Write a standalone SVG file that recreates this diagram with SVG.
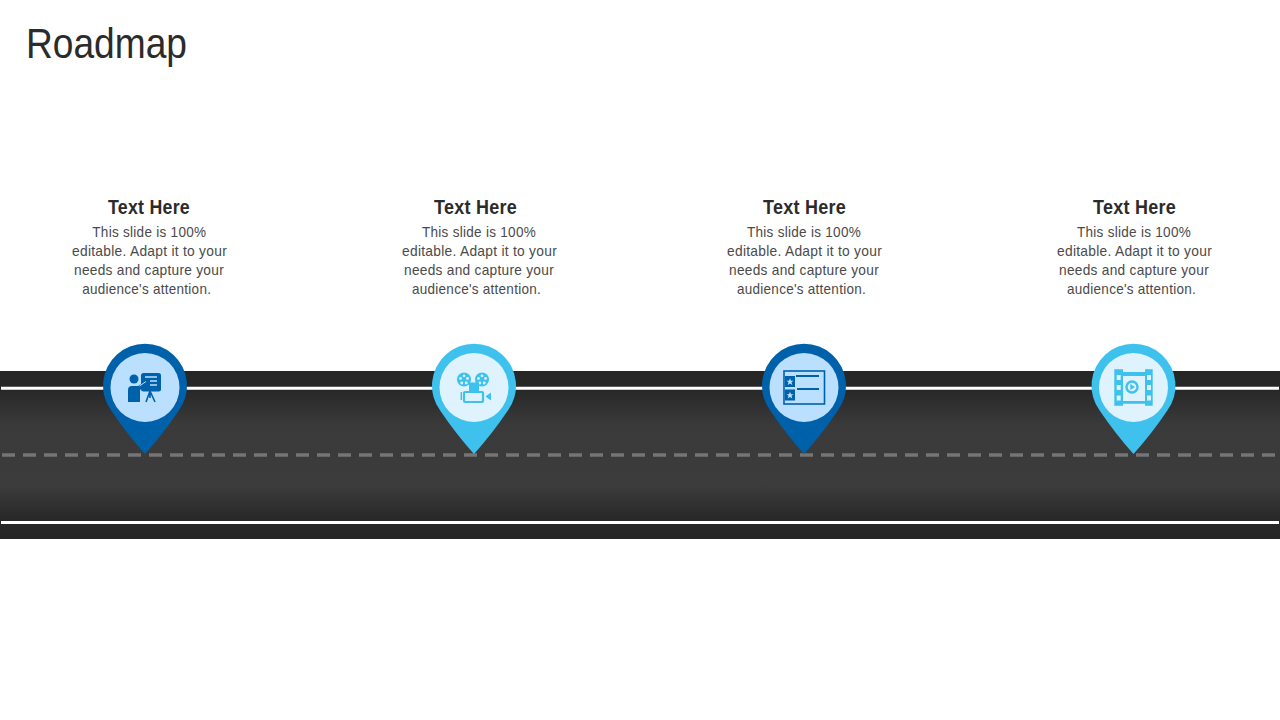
<svg xmlns="http://www.w3.org/2000/svg" xmlns:xlink="http://www.w3.org/1999/xlink" width="1280" height="720" viewBox="0 0 1280 720">
<style>
.t{font-family:"Liberation Sans",Arial,sans-serif;}
.title{font-size:43px;fill:#2b2b2b;}
.h{font-size:20px;font-weight:bold;fill:#2b2b2b;text-anchor:middle;letter-spacing:.3px;}
.b{font-size:15px;fill:#4a4a4a;text-anchor:middle;letter-spacing:.3px;}
.dk{fill:#0061ab;}
.dkl{fill:#bbdfff;}
.lt{fill:#3fc1ee;}
.ltl{fill:#def3fd;}
.ilt{fill:none;stroke:#3fc1ee;}
.idk{fill:none;stroke:#0061ab;}
</style>
<defs>
<linearGradient id="road" x1="0" y1="0" x2="0" y2="1">
<stop offset="0" stop-color="#262626"/><stop offset=".11" stop-color="#282828"/><stop offset=".32" stop-color="#3a3a3a"/><stop offset=".68" stop-color="#3c3c3c"/><stop offset=".88" stop-color="#282828"/><stop offset="1" stop-color="#262626"/>
</linearGradient>
<path id="pin" d="M-33.500 26A42 42 0 1 1 33.500 26Q18 49 0 69Q-18 49 -33.500 26Z"/>
</defs>
<rect width="1280" height="720" fill="#fff"/>
<text class="t title" x="26" y="58" textLength="161" lengthAdjust="spacingAndGlyphs">Roadmap</text>
<g id="connectors">
<rect id="road-surface" x="0" y="371" width="1280" height="168" fill="url(#road)"/>
<path d="M1 388.300H1279M1 522.500H1279" stroke="#fff" stroke-width="3" fill="none"/>
<path d="M2 455H1280" stroke="#757575" stroke-width="3.500" stroke-dasharray="13 8" fill="none"/>
</g>
<g id="node1">
<text class="t h" x="149" y="214" textLength="82" lengthAdjust="spacingAndGlyphs">Text Here</text>
<text class="t b" x="149.300" y="237" textLength="114" lengthAdjust="spacingAndGlyphs">This slide is 100%</text><text class="t b" x="149.500" y="256" textLength="155" lengthAdjust="spacingAndGlyphs">editable. Adapt it to your</text><text class="t b" x="149" y="275" textLength="150" lengthAdjust="spacingAndGlyphs">needs and capture your</text><text class="t b" x="146.700" y="294" textLength="129" lengthAdjust="spacingAndGlyphs">audience's attention.</text>
<use xlink:href="#pin" href="#pin" x="145" y="385" class="dk"/>
<circle cx="145" cy="387.500" r="34.500" class="dkl"/>
<g class="dk"><circle cx="134" cy="379" r="4.500"/><path d="M128 390q0-4 4-4h6l7-4.500 2 2.500-7 6v12h-12z"/><rect x="141" y="373" width="20" height="18.500" rx="2.500"/></g>
<path d="M145 377h12M150 381h7M150 385h7" stroke="#bbdfff" stroke-width="1.500" fill="none"/>
<path d="M139.500 386l6.500-4.500" stroke="#bbdfff" stroke-width="1" fill="none"/>
<path d="M150 391l-4 11M150 391l5 11M150 391v7" class="idk" stroke-width="1.600"/>
</g>
<g id="node2">
<text class="t h" x="475.500" y="214" textLength="83" lengthAdjust="spacingAndGlyphs">Text Here</text>
<text class="t b" x="479" y="237" textLength="114" lengthAdjust="spacingAndGlyphs">This slide is 100%</text><text class="t b" x="479.500" y="256" textLength="155" lengthAdjust="spacingAndGlyphs">editable. Adapt it to your</text><text class="t b" x="479" y="275" textLength="150" lengthAdjust="spacingAndGlyphs">needs and capture your</text><text class="t b" x="476.500" y="294" textLength="129" lengthAdjust="spacingAndGlyphs">audience's attention.</text>
<use xlink:href="#pin" href="#pin" x="474" y="385" class="lt"/>
<circle cx="474" cy="387.500" r="34.500" class="ltl"/>
<circle cx="464" cy="379.500" r="7" class="lt"/><circle cx="482" cy="379.500" r="7" class="lt"/>
<g fill="#def3fd"><circle cx="464" cy="375.800" r="1.400"/><circle cx="460.500" cy="378.500" r="1.400"/><circle cx="467.500" cy="378.500" r="1.400"/><circle cx="461.800" cy="383" r="1.400"/><circle cx="466.200" cy="383" r="1.400"/><circle cx="482" cy="375.800" r="1.400"/><circle cx="478.500" cy="378.500" r="1.400"/><circle cx="485.500" cy="378.500" r="1.400"/><circle cx="479.800" cy="383" r="1.400"/><circle cx="484.200" cy="383" r="1.400"/></g>
<rect x="469" y="382.500" width="10" height="10" rx="1" class="lt"/>
<rect x="464" y="392" width="19" height="10" rx="1" class="ilt" stroke-width="2.200"/>
<path d="M461.300 392v8" class="ilt" stroke-width="1.500"/>
<path d="M486 396l5-3.500v8l-5-3.500z" class="lt"/>
</g>
<g id="node3">
<text class="t h" x="804.500" y="214" textLength="83" lengthAdjust="spacingAndGlyphs">Text Here</text>
<text class="t b" x="804" y="237" textLength="114" lengthAdjust="spacingAndGlyphs">This slide is 100%</text><text class="t b" x="804.500" y="256" textLength="155" lengthAdjust="spacingAndGlyphs">editable. Adapt it to your</text><text class="t b" x="804" y="275" textLength="150" lengthAdjust="spacingAndGlyphs">needs and capture your</text><text class="t b" x="801.500" y="294" textLength="129" lengthAdjust="spacingAndGlyphs">audience's attention.</text>
<use xlink:href="#pin" href="#pin" x="804" y="385" class="dk"/>
<circle cx="804" cy="387.500" r="34.500" class="dkl"/>
<rect x="784" y="371" width="40.500" height="33" class="idk" stroke-width="1.600"/>
<rect x="785" y="376" width="10" height="11" class="dk"/><rect x="785" y="389.500" width="10" height="11" class="dk"/>
<path d="M790 378.200l1 2.500h2.500l-2 1.600.8 2.600-2.300-1.500-2.300 1.500.8-2.600-2-1.600h2.500zM790 391.700l1 2.500h2.500l-2 1.600.8 2.600-2.300-1.500-2.300 1.500.8-2.600-2-1.600h2.500z" fill="#bbdfff"/>
<path d="M796 376h23M797 389h22" class="idk" stroke-width="2"/>
</g>
<g id="node4">
<text class="t h" x="1134.500" y="214" textLength="83" lengthAdjust="spacingAndGlyphs">Text Here</text>
<text class="t b" x="1134" y="237" textLength="114" lengthAdjust="spacingAndGlyphs">This slide is 100%</text><text class="t b" x="1134.500" y="256" textLength="155" lengthAdjust="spacingAndGlyphs">editable. Adapt it to your</text><text class="t b" x="1134" y="275" textLength="150" lengthAdjust="spacingAndGlyphs">needs and capture your</text><text class="t b" x="1131.500" y="294" textLength="129" lengthAdjust="spacingAndGlyphs">audience's attention.</text>
<use xlink:href="#pin" href="#pin" x="1133.500" y="385" class="lt"/>
<circle cx="1133.500" cy="387.500" r="34.500" class="ltl"/>
<path fill-rule="evenodd" class="lt" d="M1114.300 369.300h8.700v2.700h22v-2.700h7.700v36.400h-7.700v-2h-22v2h-8.700zM1116.700 375v5h4v-5zM1116.700 385v5h4v-5zM1116.700 395.500v5h4v-5zM1147 375v5h4v-5zM1147 385v5h4v-5zM1147 395.500v5h4v-5zM1123 376v25h22v-25z"/>
<circle cx="1132" cy="387" r="5.500" class="ilt" stroke-width="2.400"/>
<path d="M1130.300 384l4.700 3-4.700 3z" class="lt"/>
</g>
</svg>
